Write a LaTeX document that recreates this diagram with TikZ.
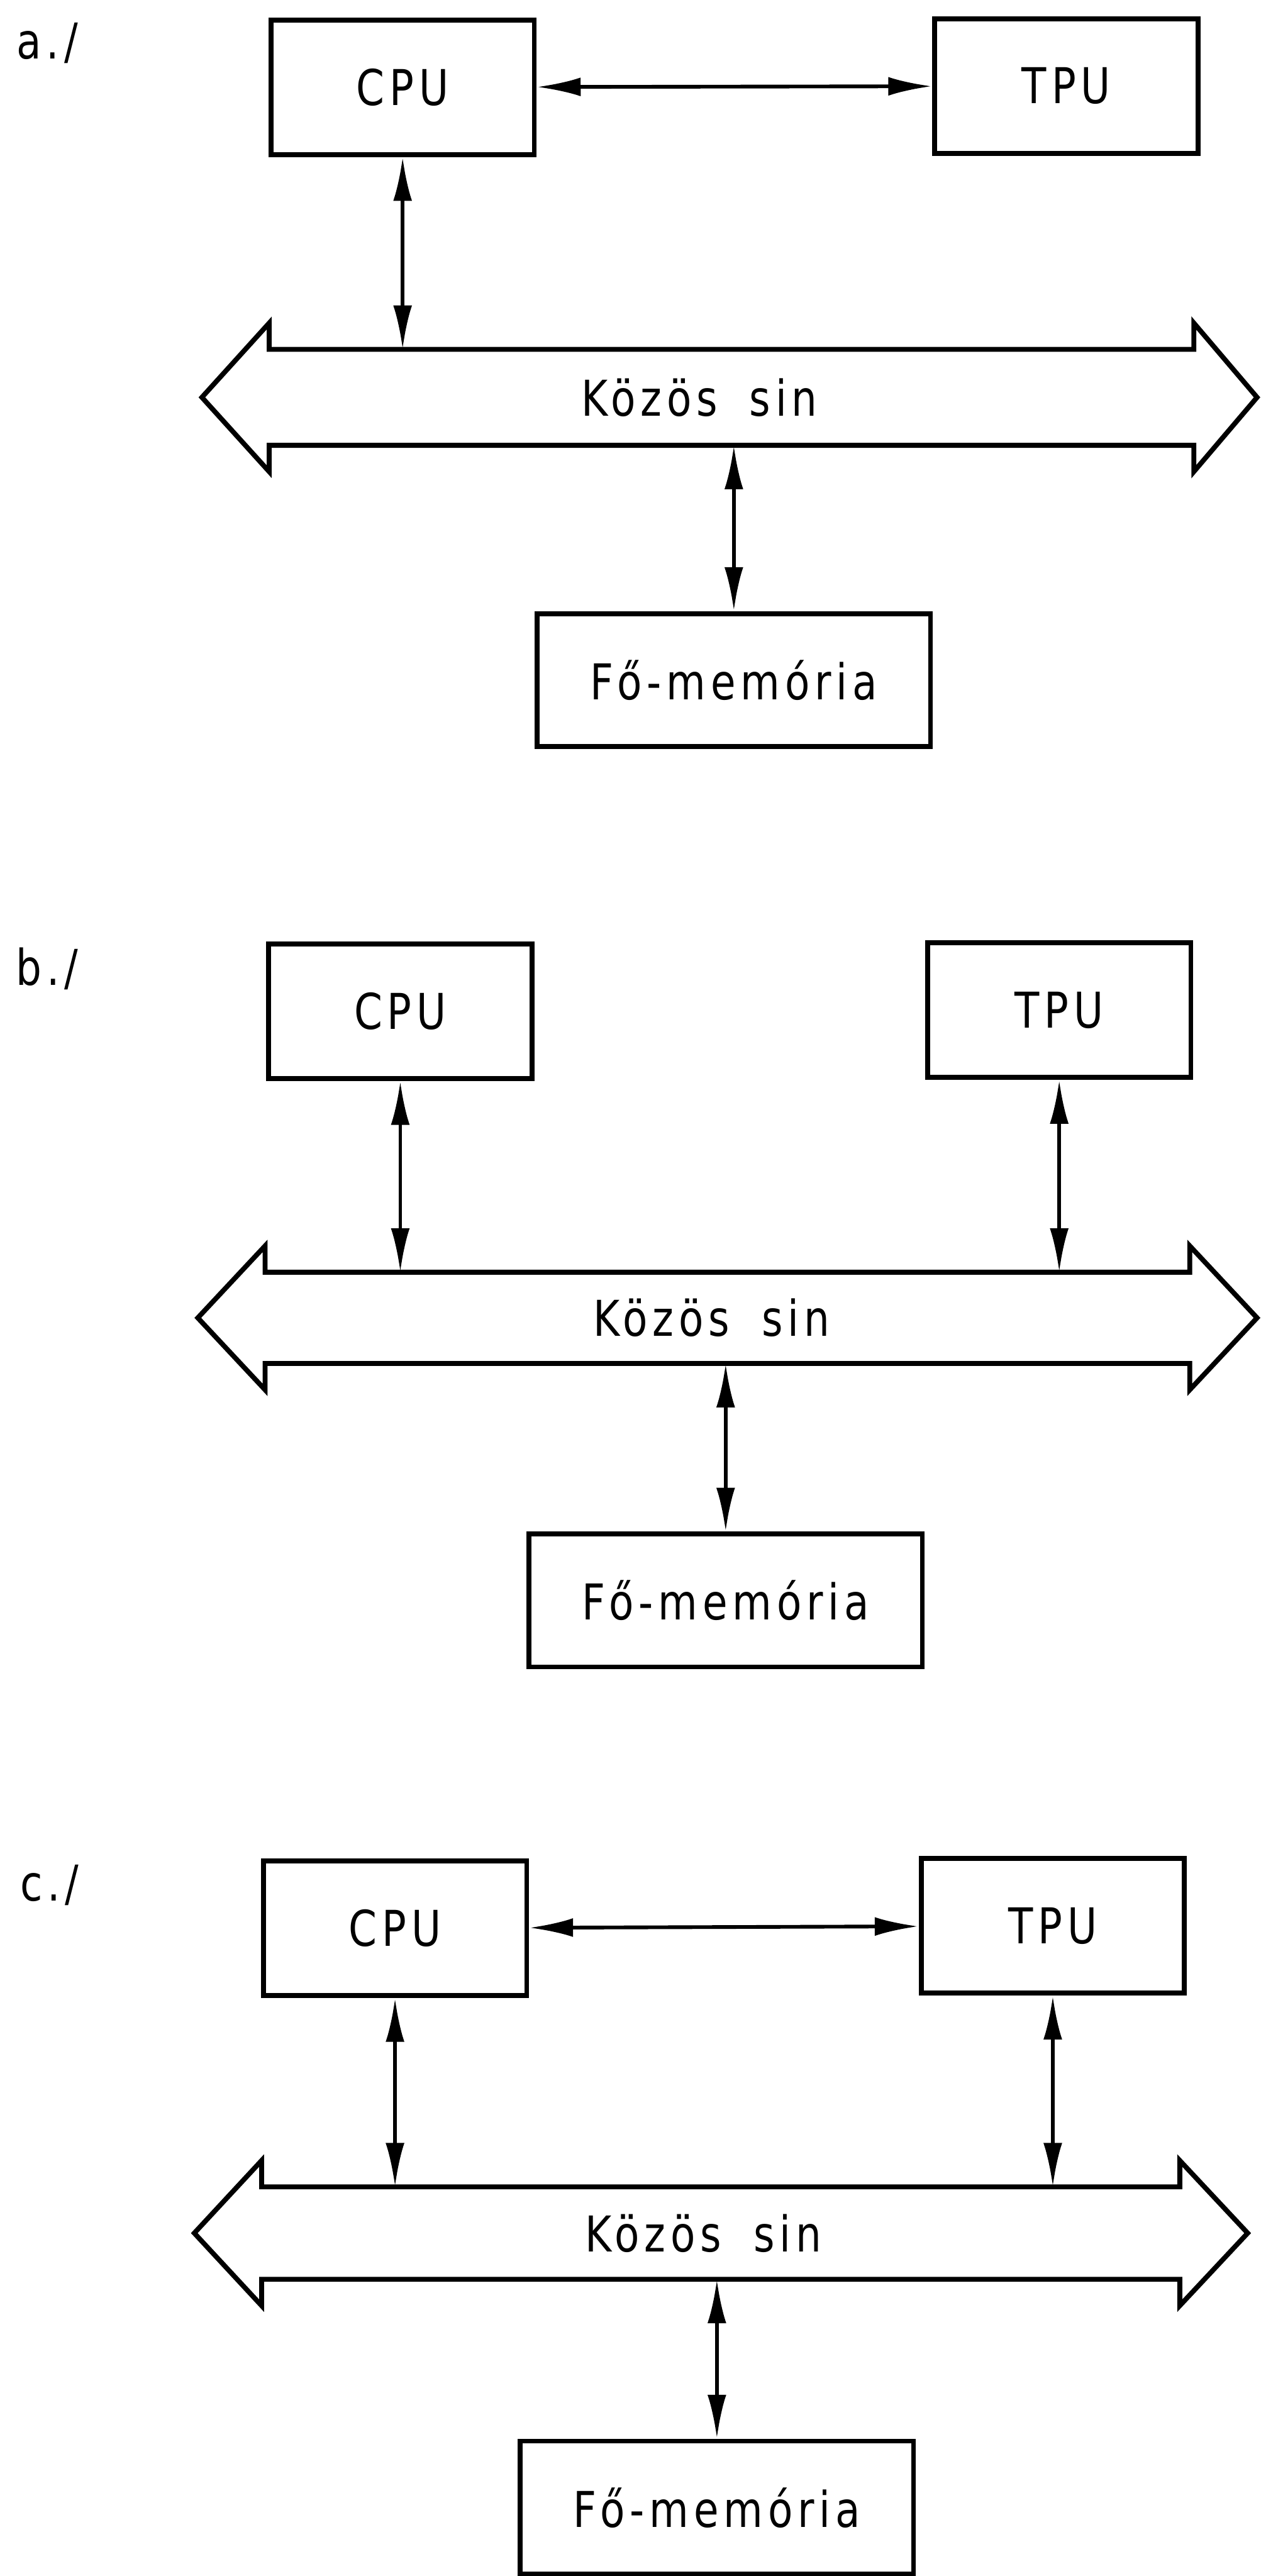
\documentclass[tikz,border=0pt]{standalone}
\usepackage{fontspec}
\setmainfont{DejaVu Sans}[FakeStretch=0.82,LetterSpace=10,WordSpace=1.8]
\usetikzlibrary{arrows.meta,positioning}

\begin{document}
\begin{tikzpicture}[font=\fontsize{24}{28}\selectfont,
  doboz/.style={draw,line width=2.4pt,minimum width=4.5cm,minimum height=2.3cm,inner sep=0pt},
  tar/.style={doboz,minimum width=6.72cm,minimum height=2.27cm},
  kapcs/.style={{Latex[length=7.5mm,width=3.2mm]}-{Latex[length=7.5mm,width=3.2mm]},line width=1.8pt},
  sinvonal/.style={line width=2.4pt,line join=miter},
  jel/.style={anchor=base west,inner sep=0pt}]
\useasboundingbox (0,0) rectangle (21.54,-44.02);

% a./ CPU -- TPU kozvetlenul
\node[jel] (jela) at (0.28,-1.00) {a./};
\node[doboz] (cpua) at (6.88,-1.49) {CPU};
\node[doboz] (tpua) at (18.22,-1.47) {TPU};
\node[tar] (tara) at (12.54,-11.62) {Fő-memória};

% b./ mindketto a sinen
\node[jel] (jelb) at (0.27,-16.83) {b./};
\node[doboz] (cpub) at (6.84,-17.28) {CPU};
\node[doboz] (tpub) at (18.10,-17.26) {TPU};
\node[tar] (tarb) at (12.40,-27.35) {Fő-memória};

% c./ mindketto
\node[jel] (jelc) at (0.34,-32.48) {c./};
\node[doboz] (cpuc) at (6.75,-32.95) {CPU};
\node[doboz] (tpuc) at (17.99,-32.91) {TPU};
\node[tar] (tarc) at (12.25,-42.85) {Fő-memória};

% kozos sinek
\foreach \n/\l/\r/\t/\b/\m/\p/\x in {a/4.60/20.40/-5.97/-7.61/-6.79/21.48/11.95,
                                    b/4.53/20.33/-21.74/-23.30/-22.52/21.48/12.16,
                                    c/4.47/20.16/-37.37/-38.95/-38.16/21.32/12.02}{
  \draw[sinvonal] (\l,\t) -- (\r,\t) -- (\r,\t+0.45) -- (\p,\m) -- (\r,\b-0.45) -- (\r,\b)
    -- (\l,\b) -- (\l,\b-0.45) -- (\l-1.15,\m) -- (\l,\t+0.45) -- cycle;
  \coordinate (sinf\n) at (\l,\t);
  \coordinate (sina\n) at (\l,\b);
  \node (sin\n) at (\x,\m) {Közös sin};
}

\draw[kapcs] (cpua) -- (tpua);
\draw[kapcs] (cpua.south) -- (cpua.south |- sinfa);
\draw[kapcs] (tara.north) -- (tara.north |- sinaa);

\draw[kapcs] (cpub.south) -- (cpub.south |- sinfb);
\draw[kapcs] (tpub.south) -- (tpub.south |- sinfb);
\draw[kapcs] (tarb.north) -- (tarb.north |- sinab);

\draw[kapcs] (cpuc) -- (tpuc);
\draw[kapcs] (cpuc.south) -- (cpuc.south |- sinfc);
\draw[kapcs] (tpuc.south) -- (tpuc.south |- sinfc);
\draw[kapcs] (tarc.north) -- (tarc.north |- sinac);
\end{tikzpicture}
\end{document}
